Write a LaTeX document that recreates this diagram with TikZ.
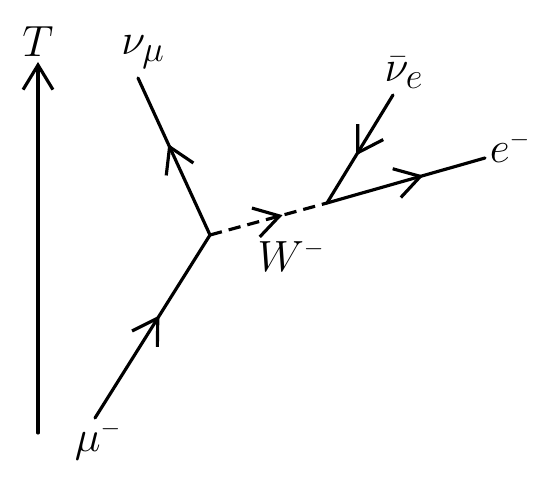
\documentclass[tikz,border=0pt]{standalone}
\usepackage{tikz}
\usetikzlibrary{arrows.meta, decorations.markings}
\tikzset{
    barb/.tip={Straight Barb[length=14pt, width=17pt, line width=1.8pt]},
    line/.style={line width=1.8pt, line cap=round},
    fermion/.style={line, postaction={decorate}, decoration={markings, mark=at position #1 with {\arrow{barb}}}},
    boson/.style={line, dash pattern=on 7pt off 4pt, line cap=butt, postaction={decorate}, decoration={markings, mark=at position #1 with {\arrow{barb}}}},
    lbl/.style={inner sep=0pt, font=\fontsize{28}{32}\selectfont}
}
\newcommand{\chgminus}{^{\scriptscriptstyle -}}

\begin{document}
\begin{tikzpicture}[x=0.02cm, y=-0.02cm]
                \useasboundingbox (0, 0) rectangle (549, 480);
                % time axis
                \coordinate (t0) at (38, 433);
                \coordinate (t1) at (38, 62);
                \node[lbl] (T) at (38, 42) {$T$};
                \draw[line, -barb] (t0) -- (t1);
                % vertices and external ends
                \coordinate (v1) at (210, 235);
                \coordinate (v2) at (327, 203);
                \coordinate (mu) at (95, 418);
                \coordinate (numu) at (138, 78);
                \coordinate (nue) at (393, 95);
                \coordinate (el) at (485, 158);
                % labels
                \node[lbl] (mulbl) at (98, 440) {$\mu\chgminus$};
                \node[lbl] (numulbl) at (143, 52) {$\nu_\mu$};
                \node[lbl] (nuelbl) at (404, 73) {$\bar\nu_e$};
                \node[lbl] (ellbl) at (510, 147) {$e\chgminus$};
                \node[lbl] (wlbl) at (291, 256) {$W\chgminus$};
                % propagators
                \draw[fermion=0.56] (mu) -- (v1);
                \draw[fermion=0.58] (v1) -- (numu);
                \draw[boson=0.62] (v1) -- (v2);
                \draw[fermion=0.61] (v2) -- (el);
                \draw[fermion=0.56] (nue) -- (v2);
\end{tikzpicture}
\end{document}
